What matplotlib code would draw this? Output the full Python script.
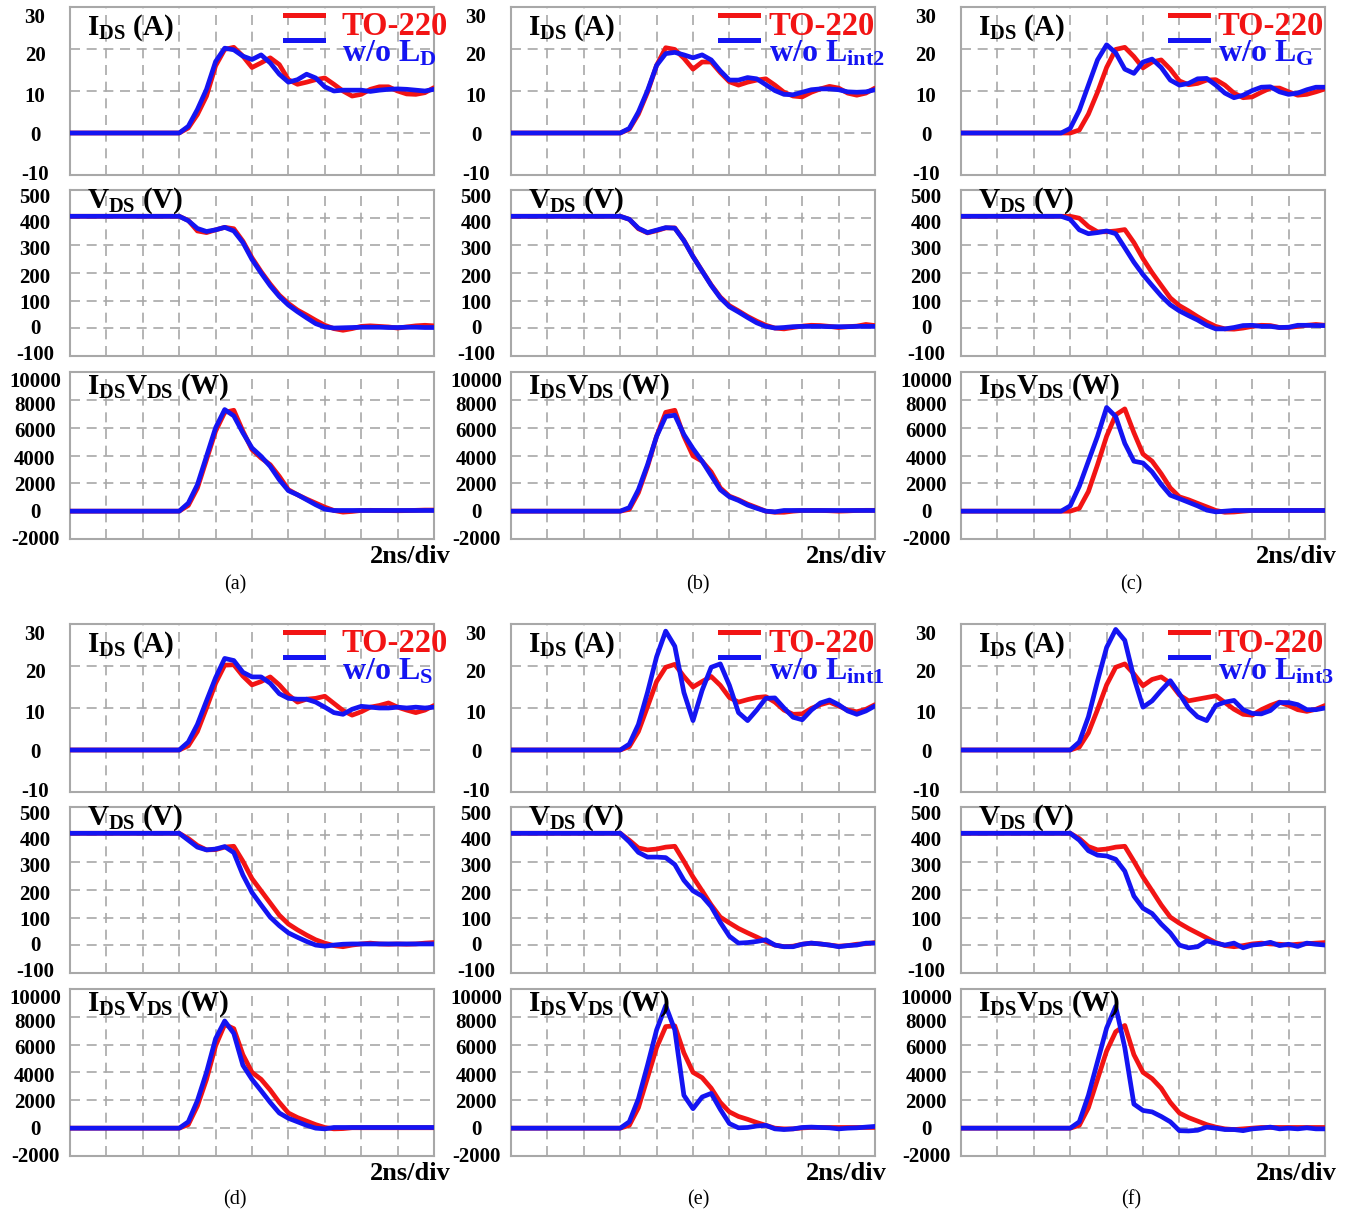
import numpy as np
import matplotlib
matplotlib.use('Agg')
import matplotlib.pyplot as plt
import matplotlib.transforms as mtransforms

plt.rcParams['font.family'] = ['Liberation Serif', 'DejaVu Serif']
plt.rcParams['mathtext.fontset'] = 'custom'
plt.rcParams['mathtext.rm'] = 'Liberation Serif:bold'
plt.rcParams['mathtext.it'] = 'Liberation Serif:bold'
plt.rcParams['mathtext.bf'] = 'Liberation Serif:bold'

# time in ns (2 ns / div, 10 div)
T = [0, 5.5, 6.0, 6.5, 7.0, 7.5, 8.0, 8.5, 9.0, 9.5, 10.0, 10.5, 11.0, 11.5, 12.0, 12.5,
     13.0, 13.5, 14.0, 14.5, 15.0, 15.5, 16.0, 16.5, 17.0, 17.5, 18.0, 18.5, 19.0, 19.5, 20.0]

# (a) w/o L_D
I_a_red = [0, 0, 0, 1.2, 4.4, 8.8, 16.0, 19.9, 20.4, 18.3, 15.6, 16.7, 17.9, 16.3, 12.7, 11.6, 12.1, 12.7, 13.1, 11.6, 10.0, 8.8, 9.2, 10.4, 11.0, 11.0, 10.0, 9.3, 9.2, 9.6, 10.8]
I_a_blue = [0, 0, 0, 1.6, 5.6, 10.4, 17.0, 20.2, 19.8, 18.3, 17.5, 18.6, 16.7, 14.0, 12.1, 12.7, 14.0, 13.1, 11.0, 10.0, 10.2, 10.2, 10.2, 9.9, 10.2, 10.4, 10.5, 10.4, 10.2, 10.0, 10.4]
V_a_red = [405, 405, 405, 390, 352, 346, 356, 365, 360, 315, 255, 205, 160, 120, 90, 66, 48, 29, 11, -1, -7, -1, 7, 9, 7, 5, 1, 5, 9, 11, 9]
V_a_blue = [405, 405, 405, 389, 361, 350, 356, 365, 352, 310, 249, 200, 154, 115, 84, 60, 38, 17, 5, 1, 2, 3, 4, 4, 4, 3, 3, 4, 4, 3, 3]
P_a_red = [0, 0, 0, 410, 1660, 3700, 5750, 7100, 7250, 5750, 4420, 3820, 3340, 2500, 1540, 1180, 870, 580, 290, 50, -70, -20, 50, 60, 50, 40, 30, 40, 60, 80, 80]
P_a_blue = [0, 0, 0, 577, 1900, 3940, 5990, 7300, 6850, 5630, 4540, 3940, 3220, 2260, 1470, 1180, 820, 460, 144, 48, 50, 50, 50, 50, 50, 50, 50, 50, 50, 50, 50]

# (b) w/o L_int2
I_b_red = [0, 0, 0, 0.9, 4.5, 9.7, 16.1, 20.3, 19.9, 17.8, 15.2, 16.9, 16.9, 14.4, 12.2, 11.4, 12.1, 12.6, 12.9, 11.4, 9.7, 8.8, 8.6, 9.7, 10.5, 11.1, 10.7, 9.5, 9.0, 9.5, 10.7]
I_b_blue = [0, 0, 0, 1.1, 5.0, 10.1, 16.1, 18.9, 19.2, 18.6, 17.9, 18.6, 17.4, 14.8, 12.6, 12.6, 13.2, 12.9, 11.5, 10.1, 9.2, 9.1, 9.7, 10.3, 10.5, 10.5, 10.3, 9.8, 9.7, 9.8, 10.3]
V_b_red = [405, 405, 405, 394, 360, 345, 353, 363, 363, 318, 260, 208, 157, 113, 82, 63, 43, 26, 11, 1, -2, 3, 8, 11, 10, 7, 3, 6, 8, 14, 10]
V_b_blue = [405, 405, 405, 394, 362, 346, 355, 364, 362, 317, 259, 207, 155, 110, 78, 59, 39, 20, 7, 1, 3, 6, 7, 7, 7, 6, 6, 6, 7, 7, 7]
P_b_red = [0, 0, 0, 130, 1330, 3200, 5380, 7100, 7250, 5380, 3970, 3590, 2820, 1670, 1080, 820, 510, 260, 0, -80, -80, 0, 50, 50, 50, 30, 0, 20, 50, 60, 60]
P_b_blue = [0, 0, 0, 256, 1540, 3330, 5380, 6800, 6900, 5510, 4490, 3590, 2560, 1540, 1030, 770, 440, 205, 0, -50, 50, 50, 50, 50, 50, 50, 50, 50, 50, 50, 50]

# (c) w/o L_G
I_c_red = [0, 0, 0, 0.7, 4.5, 9.7, 15.6, 19.9, 20.4, 18.2, 15.5, 16.9, 17.4, 15.2, 12.4, 11.5, 11.8, 12.6, 12.7, 11.4, 9.5, 8.4, 8.6, 9.7, 10.7, 10.7, 9.8, 9.0, 9.2, 9.8, 10.5]
I_c_blue = [0, 0, 1.1, 5.4, 11.4, 17.4, 21.0, 19.1, 15.2, 14.2, 16.9, 17.6, 15.6, 12.6, 11.4, 11.8, 12.9, 13.0, 11.4, 9.5, 8.4, 9.0, 10.1, 10.9, 11.0, 9.8, 9.2, 9.5, 10.3, 10.9, 10.9]
V_c_red = [405, 405, 405, 398, 368, 349, 349, 352, 357, 310, 252, 201, 155, 110, 82, 63, 42, 23, 7, -2, -3, 1, 7, 11, 10, 3, 3, 7, 11, 14, 11]
V_c_blue = [405, 405, 394, 356, 342, 346, 352, 342, 291, 239, 194, 155, 117, 85, 63, 46, 30, 11, -2, -2, 3, 10, 11, 7, 7, 3, 4, 11, 11, 10, 10]
P_c_red = [0, 0, 0, 205, 1410, 3330, 5380, 6920, 7350, 5640, 4100, 3590, 2690, 1670, 1030, 820, 560, 310, 50, -80, -60, 0, 50, 50, 50, 50, 50, 50, 50, 50, 50]
P_c_blue = [0, 0, 380, 1790, 3590, 5380, 7450, 6800, 4870, 3590, 3460, 2820, 1920, 1150, 900, 640, 380, 77, -50, 0, 50, 50, 50, 50, 50, 50, 50, 50, 50, 50, 50]

# (d) w/o L_S
I_d_red = [0, 0, 0, 1.0, 4.4, 10.0, 15.9, 20.2, 20.3, 17.6, 15.5, 16.3, 17.4, 15.5, 13.1, 11.4, 12.1, 12.3, 12.8, 11.1, 9.4, 8.3, 9.1, 10.2, 10.6, 11.2, 10.2, 9.5, 8.9, 9.5, 10.6]
I_d_blue = [0, 0, 0, 1.9, 6.1, 11.7, 17.2, 21.8, 21.3, 18.5, 17.4, 17.4, 15.9, 13.4, 12.3, 12.1, 12.1, 11.4, 10.2, 8.9, 8.5, 9.7, 10.4, 10.2, 10.0, 10.0, 10.2, 10.0, 10.2, 10.0, 10.2]
V_d_red = [405, 405, 405, 386, 361, 345, 346, 355, 358, 304, 241, 197, 153, 109, 77, 56, 37, 20, 8, -1, -5, 1, 5, 8, 5, 4, 5, 4, 5, 8, 10]
V_d_blue = [405, 405, 405, 380, 355, 345, 348, 357, 335, 254, 191, 146, 102, 71, 45, 29, 14, 1, -3, 1, 4, 5, 5, 5, 5, 5, 5, 5, 5, 5, 5]
P_d_red = [0, 0, 0, 254, 1600, 3510, 5920, 7450, 7150, 5280, 4010, 3510, 2740, 1850, 1090, 760, 508, 254, 50, -50, -30, 30, 30, 30, 30, 30, 30, 30, 30, 30, 30]
P_d_blue = [0, 0, 0, 457, 1980, 4010, 6430, 7700, 6810, 4520, 3510, 2690, 1850, 1090, 710, 457, 203, 0, -50, 50, 50, 50, 50, 50, 50, 50, 50, 50, 50, 50, 50]

# (e) w/o L_int1
I_e_red = [0, 0, 0, 0.8, 4.4, 10.3, 16.3, 19.7, 20.4, 17.5, 15.0, 16.3, 17.5, 15.4, 12.5, 11.4, 12.0, 12.5, 12.7, 11.4, 9.5, 8.5, 8.6, 9.9, 10.8, 11.4, 10.5, 9.5, 9.1, 9.7, 10.8]
I_e_blue = [0, 0, 0, 1.4, 6.1, 13.7, 22.2, 28.3, 24.7, 13.7, 7.0, 14.2, 19.7, 20.5, 15.4, 8.9, 7.0, 9.5, 12.3, 12.4, 10.0, 7.8, 7.2, 9.5, 11.2, 11.9, 10.8, 9.3, 8.5, 9.3, 10.5]
V_e_red = [405, 405, 405, 380, 352, 345, 348, 355, 358, 304, 247, 197, 146, 102, 81, 61, 45, 30, 14, 1, -5, -3, 4, 8, 5, 1, -3, -1, 4, 6, 10]
V_e_blue = [405, 405, 405, 374, 336, 319, 319, 317, 292, 235, 197, 178, 140, 83, 33, 8, 10, 14, 20, 1, -5, -5, 4, 8, 5, 1, -5, -1, 1, 8, 8]
P_e_red = [0, 0, 0, 203, 1470, 3630, 5790, 7300, 7350, 5410, 4010, 3630, 2870, 1850, 1170, 840, 635, 406, 203, 0, -50, -50, 20, 50, 50, 50, 50, 50, 50, 50, 50]
P_e_blue = [0, 0, 0, 457, 2110, 4520, 7060, 8800, 7060, 2360, 1400, 2240, 2500, 1350, 330, 25, 50, 152, 203, -50, -100, -50, 50, 76, 50, 25, -50, 0, 25, 76, 127]

# (f) w/o L_int3
I_f_red = [0, 0, 0, 0.7, 4.1, 9.6, 15.5, 19.7, 20.5, 18.1, 15.3, 16.8, 17.4, 15.9, 13.1, 11.7, 12.1, 12.5, 12.9, 11.3, 9.7, 8.5, 8.3, 9.6, 10.6, 11.4, 10.6, 9.6, 9.2, 9.7, 10.6]
I_f_blue = [0, 0, 0, 1.9, 7.9, 16.4, 24.4, 28.7, 26.1, 17.2, 10.2, 11.7, 14.2, 16.5, 13.4, 10.0, 7.9, 7.0, 10.6, 11.4, 11.8, 9.6, 8.7, 8.6, 9.4, 11.3, 11.3, 10.8, 9.6, 9.6, 10.0]
V_f_red = [405, 405, 405, 386, 357, 345, 348, 355, 358, 304, 247, 197, 146, 102, 80, 61, 44, 27, 10, -1, -5, -1, 5, 8, 5, 4, 1, 4, 6, 8, 10]
V_f_blue = [405, 405, 405, 380, 342, 326, 323, 311, 268, 178, 134, 115, 77, 45, 1, -9, -5, 16, 8, 1, 8, -9, 1, 4, 11, -1, 4, -4, 8, 4, 1]
P_f_red = [0, 0, 0, 203, 1470, 3510, 5540, 6930, 7380, 5280, 4010, 3560, 2870, 1850, 1090, 760, 508, 254, 76, -50, -100, -50, 0, 50, 50, 50, 50, 50, 50, 50, 50]
P_f_blue = [0, 0, 0, 457, 2360, 4780, 7190, 8750, 5790, 1730, 1270, 1170, 840, 457, -180, -200, -150, 76, 0, -100, -100, -180, -50, 0, 76, -50, 0, -50, 25, -50, -50]

I_TICKS = [-10, 0, 10, 20, 30]
V_TICKS = [-100, 0, 100, 200, 300, 400, 500]
P_TICKS = [-2000, 0, 2000, 4000, 6000, 8000, 10000]
# the tick numbers sit a little below their grid lines in the original (px)
I_LBL_DROP = [0, 3, 6, 7, 11]
V_LBL_DROP = [-1, 1, 3, 5, 5, 6, 8]
P_LBL_DROP = [1, 2, 3, 4, 4, 6, 10]

RED = '#f21414'
BLUE = '#1414f2'
GRID = '#a8a8a8'

W, H = 1352, 1215
fig = plt.figure(figsize=(W / 100, H / 100), dpi=100)


def px_axes(left, top, w, h):
    return fig.add_axes([left / W, 1 - (top + h) / H, w / W, h / H])


def style_axes(ax, ticks, drops):
    ax.set_xlim(0, 20)
    ax.set_ylim(ticks[0], ticks[-1])
    ax.set_xticks(np.arange(0, 21, 2))
    ax.set_xticklabels([])
    ax.set_yticks(ticks)
    ax.set_yticklabels([])
    ax.tick_params(length=0)
    ax.grid(True, color=GRID, linestyle=(0, (6, 4)), linewidth=1.2)
    for s in ax.spines.values():
        s.set_color(GRID)
        s.set_linewidth(1.5)
    base = mtransforms.blended_transform_factory(ax.transAxes, ax.transData)
    for v, d in zip(ticks, drops):
        tr = base + mtransforms.ScaledTranslation(0, -d / 100, fig.dpi_scale_trans)
        ax.text(-35 / AX_W, v, str(v), transform=tr, ha='center', va='center',
                fontsize=15, fontweight='bold')


# column x (px), row tops (px) for I, V, P
COL_LEFT = [70, 511, 961]
AX_W = 364
ROW_TOPS = [[7, 190, 372], [624, 807, 989]]
AX_H = [168, 166, 167]
LEG_LINE_X = [(0.59, 0.695), (0.573, 0.678), (0.574, 0.678)]
LEG_TEXT_X = [0.747, 0.708, 0.705]
DIV_RIGHT = [17, 12, 12]
CAP_X = [235, 698, 1131]
CAP_Y = [585, 1200]

panels = [
    ('(a)', 0, 0, 'D', I_a_red, I_a_blue, V_a_red, V_a_blue, P_a_red, P_a_blue),
    ('(b)', 0, 1, 'int2', I_b_red, I_b_blue, V_b_red, V_b_blue, P_b_red, P_b_blue),
    ('(c)', 0, 2, 'G', I_c_red, I_c_blue, V_c_red, V_c_blue, P_c_red, P_c_blue),
    ('(d)', 1, 0, 'S', I_d_red, I_d_blue, V_d_red, V_d_blue, P_d_red, P_d_blue),
    ('(e)', 1, 1, 'int1', I_e_red, I_e_blue, V_e_red, V_e_blue, P_e_red, P_e_blue),
    ('(f)', 1, 2, 'int3', I_f_red, I_f_blue, V_f_red, V_f_blue, P_f_red, P_f_blue),
]

titles = [r'$I_{DS}$ (A)', r'$V_{DS}$ (V)', r'$I_{DS}V_{DS}$ (W)']
title_base = [28, 18, 22]  # px below top edge
ticks_all = [I_TICKS, V_TICKS, P_TICKS]
drops_all = [I_LBL_DROP, V_LBL_DROP, P_LBL_DROP]

for cap, row, col, sub, ir, ib, vr, vb, pr, pb in panels:
    left = COL_LEFT[col]
    series = [(ir, ib), (vr, vb), (pr, pb)]
    for k in range(3):
        top = ROW_TOPS[row][k]
        h = AX_H[k]
        ax = px_axes(left, top, AX_W, h)
        style_axes(ax, ticks_all[k], drops_all[k])
        red, blue = series[k]
        ax.plot(T, red, color=RED, lw=3.4, solid_joinstyle='round', solid_capstyle='round', zorder=3)
        ax.plot(T, blue, color=BLUE, lw=3.4, solid_joinstyle='round', solid_capstyle='round', zorder=4)
        ax.text(17 / AX_W, 1 - title_base[k] / h, titles[k], transform=ax.transAxes,
                fontsize=21, fontweight='bold', va='baseline', ha='left', zorder=5)
        if k == 0:
            x0, x1 = LEG_LINE_X[col]
            ax.plot([x0, x1], [1 - 8 / h, 1 - 8 / h], transform=ax.transAxes, color=RED,
                    lw=3.6, clip_on=False, zorder=5)
            ax.plot([x0, x1], [1 - 33 / h, 1 - 33 / h], transform=ax.transAxes, color=BLUE,
                    lw=3.6, clip_on=False, zorder=5)
            ax.text(LEG_TEXT_X[col], 1 - 28 / h, 'TO-220', transform=ax.transAxes, color=RED,
                    fontsize=23.5, fontweight='bold', va='baseline', ha='left', zorder=5)
            ax.text(LEG_TEXT_X[col], 1 - 55 / h, r'w/o $L_{%s}$' % sub, transform=ax.transAxes,
                    color=BLUE, fontsize=23, fontweight='bold', va='baseline', ha='left', zorder=5)
        if k == 2:
            yb = top + h + 18
            fig.text((left + AX_W + DIV_RIGHT[col]) / W, 1 - yb / H, '2ns/div',
                     fontsize=19, fontweight='bold', ha='right', va='center')
    fig.text(CAP_X[col] / W, 1 - CAP_Y[row] / H, cap, fontsize=14.5, ha='center', va='center')

fig.savefig('out.png', dpi=100)
